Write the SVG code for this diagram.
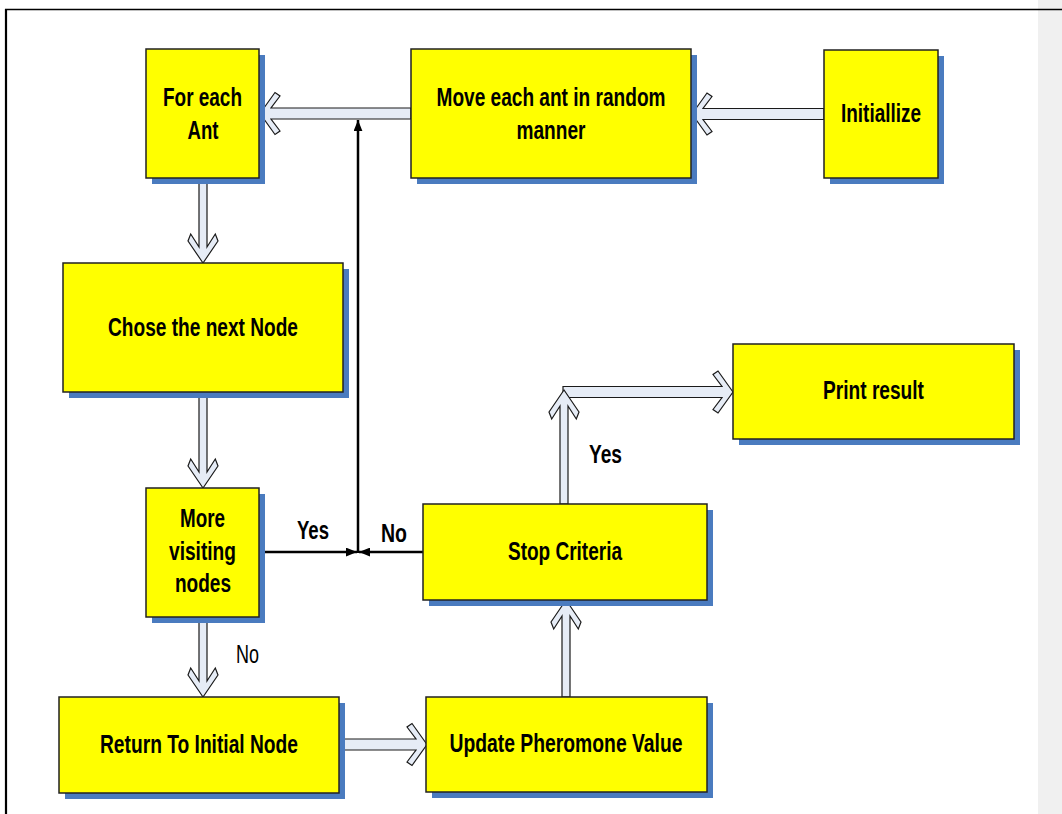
<svg xmlns="http://www.w3.org/2000/svg" width="1062" height="814" viewBox="0 0 1062 814">
  <defs>
    <style>
      .shadow { fill: #4a7bbf; }
      .box { fill: #ffff00; stroke: #222222; stroke-width: 1.5; }
      .lbl { font-family: "Liberation Sans Narrow", "Arial Narrow", "Liberation Sans", sans-serif; font-weight: bold; font-size: 25.5px; fill: #000; text-anchor: middle; }
      .plain { font-weight: normal; }
      .block { fill: #e6ecf6; stroke: #1a1a1a; stroke-width: 1.2; stroke-linejoin: miter; }
      .thin { fill: none; stroke: #000; stroke-width: 2.5; }
    </style>
    <marker id="tri" viewBox="0 0 10 8" refX="10" refY="4" markerWidth="11" markerHeight="9" markerUnits="userSpaceOnUse" orient="auto">
      <path d="M0,0 L10,4 L0,8 Z" fill="#000"/>
    </marker>
  </defs>

  <!-- page background, side strip and frame -->
  <rect x="0" y="0" width="1062" height="814" fill="#ffffff"/>
  <rect x="1038" y="0" width="24" height="814" fill="#f0f0f0"/>
  <line x1="5" y1="9.5" x2="1062" y2="9.5" stroke="#000" stroke-width="1.5"/>
  <line x1="6" y1="9" x2="6" y2="814" stroke="#000" stroke-width="2.2"/>

  <!-- connectors -->
  <g id="connectors">
    <!-- Move each ant -> For each Ant -->
    <path class="block" transform="translate(260,113.5)" d="M0,0 L15,-21 L20,-17.5 L11,-5.5 L151,-5.5 L151,5.5 L11,5.5 L20,17.5 L15,21 Z"/>
    <!-- Initiallize -> Move each ant -->
    <path class="block" transform="translate(692,114)" d="M0,0 L15,-21 L20,-17.5 L11,-5.5 L132,-5.5 L132,5.5 L11,5.5 L20,17.5 L15,21 Z"/>
    <!-- For each Ant -> Chose the next Node -->
    <path class="block" transform="translate(203,263) scale(1,-1)" d="M0,0 L-15,22 L-12.3,29 L-4,16 L-4,85 L4,85 L4,16 L12.3,29 L15,22 Z"/>
    <!-- Chose the next Node -> More visiting nodes -->
    <path class="block" transform="translate(203,488) scale(1,-1)" d="M0,0 L-15,22 L-12.3,29 L-4,16 L-4,96 L4,96 L4,16 L12.3,29 L15,22 Z"/>
    <!-- More visiting nodes -> Return To Initial Node (No) -->
    <path class="block" transform="translate(203,697) scale(1,-1)" d="M0,0 L-15,22 L-12.3,29 L-4,16 L-4,80 L4,80 L4,16 L12.3,29 L15,22 Z"/>
    <!-- Return To Initial Node -> Update Pheromone Value -->
    <path class="block" transform="translate(427,744.5) scale(-1,1)" d="M0,0 L15,-21 L20,-17.5 L11,-5.5 L88,-5.5 L88,5.5 L11,5.5 L20,17.5 L15,21 Z"/>
    <!-- Update Pheromone Value -> Stop Criteria -->
    <path class="block" transform="translate(566,600)" d="M0,0 L-15,22 L-12.3,29 L-4,16 L-4,97 L4,97 L4,16 L12.3,29 L15,22 Z"/>
    <!-- Stop Criteria -> Print result (Yes) -->
    <path class="block" transform="translate(733,392) scale(-1,1)" d="M0,0 L15,-21 L20,-17.5 L11,-5.5 L170,-5.5 L170,5.5 L11,5.5 L20,17.5 L15,21 Z"/>
    <path class="block" transform="translate(564,390)" d="M0,0 L-15,22 L-12.3,29 L-4,16 L-4,114 L4,114 L4,16 L12.3,29 L15,22 Z"/>

    <!-- loop back to For each Ant -->
    <line class="thin" x1="259" y1="552" x2="357" y2="552" marker-end="url(#tri)"/>
    <line class="thin" x1="423" y1="552" x2="359" y2="552" marker-end="url(#tri)"/>
    <line class="thin" x1="358" y1="553" x2="358" y2="120" marker-end="url(#tri)"/>

    <text class="lbl" x="313" y="539" textLength="32" lengthAdjust="spacingAndGlyphs">Yes</text>
    <text class="lbl" x="394" y="542" textLength="26" lengthAdjust="spacingAndGlyphs">No</text>
    <text class="lbl" x="605.5" y="463" textLength="33" lengthAdjust="spacingAndGlyphs">Yes</text>
    <text class="lbl plain" x="247.5" y="663" textLength="23" lengthAdjust="spacingAndGlyphs">No</text>
  </g>

  <!-- nodes -->
  <g id="for-each-ant">
    <rect class="shadow" x="152" y="55" width="113" height="129"/>
    <rect class="box" x="146" y="49" width="113" height="129"/>
    <text class="lbl" x="202.5" y="106" textLength="79" lengthAdjust="spacingAndGlyphs">For each</text>
    <text class="lbl" x="203" y="139" textLength="31" lengthAdjust="spacingAndGlyphs">Ant</text>
  </g>

  <g id="move-each-ant">
    <rect class="shadow" x="417" y="55" width="280" height="129"/>
    <rect class="box" x="411" y="49" width="280" height="129"/>
    <text class="lbl" x="551" y="106" textLength="229" lengthAdjust="spacingAndGlyphs">Move each ant in random</text>
    <text class="lbl" x="551" y="139" textLength="69" lengthAdjust="spacingAndGlyphs">manner</text>
  </g>

  <g id="initiallize">
    <rect class="shadow" x="830" y="56" width="114" height="128"/>
    <rect class="box" x="824" y="50" width="114" height="128"/>
    <text class="lbl" x="881" y="122" textLength="80" lengthAdjust="spacingAndGlyphs">Initiallize</text>
  </g>

  <g id="chose-next-node">
    <rect class="shadow" x="69" y="269" width="280" height="129"/>
    <rect class="box" x="63" y="263" width="280" height="129"/>
    <text class="lbl" x="203" y="336" textLength="190" lengthAdjust="spacingAndGlyphs">Chose the next Node</text>
  </g>

  <g id="more-visiting-nodes">
    <rect class="shadow" x="152" y="494" width="113" height="129"/>
    <rect class="box" x="146" y="488" width="113" height="129"/>
    <text class="lbl" x="202.5" y="527" textLength="45" lengthAdjust="spacingAndGlyphs">More</text>
    <text class="lbl" x="202.5" y="560" textLength="67" lengthAdjust="spacingAndGlyphs">visiting</text>
    <text class="lbl" x="203" y="592" textLength="56" lengthAdjust="spacingAndGlyphs">nodes</text>
  </g>

  <g id="stop-criteria">
    <rect class="shadow" x="429" y="510" width="284" height="96"/>
    <rect class="box" x="423" y="504" width="284" height="96"/>
    <text class="lbl" x="565" y="560" textLength="114" lengthAdjust="spacingAndGlyphs">Stop Criteria</text>
  </g>

  <g id="print-result">
    <rect class="shadow" x="739" y="350" width="281" height="95"/>
    <rect class="box" x="733" y="344" width="281" height="95"/>
    <text class="lbl" x="873.5" y="399" textLength="101" lengthAdjust="spacingAndGlyphs">Print result</text>
  </g>

  <g id="return-initial-node">
    <rect class="shadow" x="65" y="703" width="280" height="96"/>
    <rect class="box" x="59" y="697" width="280" height="96"/>
    <text class="lbl" x="199" y="753" textLength="198" lengthAdjust="spacingAndGlyphs">Return To Initial Node</text>
  </g>

  <g id="update-pheromone">
    <rect class="shadow" x="432" y="703" width="281" height="95"/>
    <rect class="box" x="426" y="697" width="281" height="95"/>
    <text class="lbl" x="566" y="752" textLength="233" lengthAdjust="spacingAndGlyphs">Update Pheromone Value</text>
  </g>
</svg>
